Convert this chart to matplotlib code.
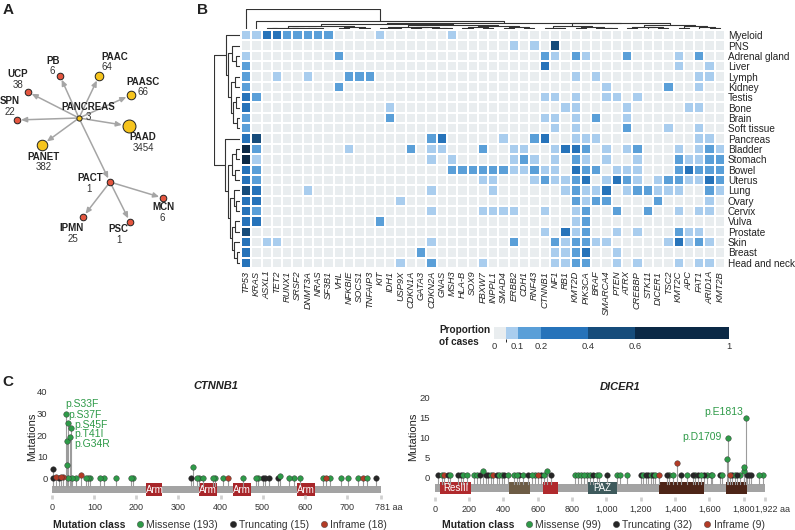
import numpy as np
import matplotlib
matplotlib.use('Agg')
import matplotlib.pyplot as plt
from matplotlib.colors import ListedColormap, BoundaryNorm
from matplotlib.colorbar import ColorbarBase
from matplotlib.lines import Line2D
from matplotlib.patches import Rectangle

plt.rcParams['font.family'] = ['Liberation Sans', 'DejaVu Sans']
plt.rcParams['font.size'] = 7.5
TXT = '#222222'

# ---------------- panel A: oncotree of pancreas ----------------
subtypes = ['PANCREAS', 'PB', 'PAAC', 'UCP', 'PAASC', 'SPN', 'PAAD', 'PANET',
            'PACT', 'MCN', 'IPMN', 'PSC']
n_cases = [3, 6, 64, 38, 66, 22, 3454, 382, 1, 6, 25, 1]
parent = [None, 'PANCREAS', 'PANCREAS', 'PANCREAS', 'PANCREAS', 'PANCREAS',
          'PANCREAS', 'PANCREAS', 'PANCREAS', 'PACT', 'PACT', 'PACT']
node_group = ['main', 'minor', 'main', 'minor', 'main', 'minor', 'main', 'main',
              'minor', 'minor', 'minor', 'minor']

# ---------------- panel B: heatmap ----------------
genes = ['TP53', 'KRAS', 'ASXL1', 'TET2', 'RUNX1', 'SRSF2', 'DNMT3A', 'NRAS', 'SF3B1',
         'VHL', 'NFKBIE', 'SOCS1', 'TNFAIP3', 'KIT', 'IDH1', 'USP9X', 'CDKN1A', 'GATA3',
         'CDKN2A', 'GNAS', 'MSH3', 'HLA-B', 'SOX9', 'FBXW7', 'INPPL1', 'SMAD4', 'ERBB2',
         'CDH1', 'RNF43', 'CTNNB1', 'NF1', 'RB1', 'KMT2D', 'PIK3CA', 'BRAF', 'SMARCA4',
         'PTEN', 'ATRX', 'CREBBP', 'STK11', 'DICER1', 'TSC2', 'KMT2C', 'APC', 'FAT1',
         'ARID1A', 'KMT2B']
tissues = ['Myeloid', 'PNS', 'Adrenal gland', 'Liver', 'Lymph', 'Kidney', 'Testis', 'Bone',
           'Brain', 'Soft tissue', 'Pancreas', 'Bladder', 'Stomach', 'Bowel', 'Uterus',
           'Lung', 'Ovary', 'Cervix', 'Vulva', 'Prostate', 'Skin', 'Breast', 'Head and neck']
# proportion bin per cell: 1 <0.1, 2 0.1-0.2, 3 0.2-0.4, 4 0.4-0.6, 5 >0.6 (0 = none)
bins = {
    'Myeloid': {'TP53': 1, 'KRAS': 1, 'ASXL1': 3, 'TET2': 3, 'RUNX1': 2, 'SRSF2': 2, 'DNMT3A': 2,
                'NRAS': 2, 'SF3B1': 2, 'KIT': 1, 'MSH3': 1},
    'PNS': {'ERBB2': 1, 'RNF43': 1, 'NF1': 4},
    'Adrenal gland': {'TP53': 1, 'VHL': 2, 'CTNNB1': 2, 'NF1': 1, 'KMT2D': 2, 'PIK3CA': 1,
                      'ATRX': 2, 'KMT2C': 1, 'FAT1': 2},
    'Liver': {'TP53': 2, 'CTNNB1': 3, 'KMT2C': 1, 'ARID1A': 1},
    'Lymph': {'TP53': 2, 'TET2': 1, 'DNMT3A': 1, 'NFKBIE': 2, 'SOCS1': 2, 'TNFAIP3': 2,
              'KMT2D': 1, 'BRAF': 1, 'FAT1': 1, 'ARID1A': 1},
    'Kidney': {'TP53': 2, 'VHL': 2, 'SMARCA4': 1, 'TSC2': 2, 'FAT1': 1},
    'Testis': {'TP53': 3, 'KRAS': 2, 'CTNNB1': 1, 'NF1': 1, 'KMT2D': 1, 'SMARCA4': 1,
               'PTEN': 1, 'CREBBP': 1},
    'Bone': {'TP53': 3, 'IDH1': 1, 'RB1': 1, 'KMT2D': 1, 'ATRX': 1, 'APC': 1, 'FAT1': 1},
    'Brain': {'TP53': 2, 'IDH1': 2, 'CTNNB1': 1, 'NF1': 1, 'KMT2D': 1, 'BRAF': 2, 'ATRX': 1},
    'Soft tissue': {'TP53': 2, 'NF1': 1, 'KMT2D': 1, 'ATRX': 2, 'TSC2': 1, 'FAT1': 1},
    'Pancreas': {'TP53': 3, 'KRAS': 4, 'CDKN2A': 2, 'GNAS': 3, 'SMAD4': 1, 'RNF43': 2,
                 'CTNNB1': 3, 'KMT2D': 1, 'PIK3CA': 1, 'BRAF': 1, 'FAT1': 1, 'ARID1A': 1},
    'Bladder': {'TP53': 5, 'KRAS': 2, 'NFKBIE': 1, 'CDKN1A': 2, 'CDKN2A': 1, 'GNAS': 1,
                'FBXW7': 2, 'ERBB2': 1, 'CDH1': 1, 'NF1': 1, 'RB1': 3, 'KMT2D': 3, 'PIK3CA': 2,
                'SMARCA4': 1, 'ATRX': 1, 'CREBBP': 2, 'KMT2C': 1, 'FAT1': 1, 'ARID1A': 2,
                'KMT2B': 1},
    'Stomach': {'TP53': 5, 'KRAS': 1, 'CDKN2A': 1, 'MSH3': 1, 'ERBB2': 1, 'CDH1': 2,
                'RNF43': 1, 'NF1': 1, 'KMT2D': 2, 'PIK3CA': 1, 'SMARCA4': 1, 'CREBBP': 1,
                'KMT2C': 2, 'APC': 1, 'FAT1': 1, 'ARID1A': 2, 'KMT2B': 2},
    'Bowel': {'TP53': 3, 'KRAS': 2, 'MSH3': 2, 'HLA-B': 2, 'SOX9': 2, 'FBXW7': 2, 'INPPL1': 2,
              'SMAD4': 2, 'ERBB2': 1, 'CDH1': 1, 'RNF43': 2, 'CTNNB1': 1, 'NF1': 1, 'KMT2D': 3,
              'PIK3CA': 2, 'BRAF': 2, 'PTEN': 1, 'ATRX': 1, 'CREBBP': 1, 'KMT2C': 2, 'APC': 3,
              'FAT1': 2, 'ARID1A': 2, 'KMT2B': 2},
    'Uterus': {'TP53': 3, 'KRAS': 2, 'FBXW7': 1, 'INPPL1': 1, 'RNF43': 1, 'CTNNB1': 2, 'NF1': 1,
               'RB1': 1, 'KMT2D': 2, 'PIK3CA': 3, 'SMARCA4': 1, 'PTEN': 3, 'ATRX': 2,
               'CREBBP': 1, 'DICER1': 1, 'TSC2': 2, 'KMT2C': 2, 'APC': 1, 'FAT1': 1,
               'ARID1A': 3, 'KMT2B': 2},
    'Lung': {'TP53': 4, 'KRAS': 3, 'DNMT3A': 1, 'CDKN2A': 1, 'INPPL1': 1, 'RB1': 1, 'KMT2D': 2,
             'PIK3CA': 1, 'BRAF': 1, 'SMARCA4': 3, 'ATRX': 1, 'CREBBP': 2, 'STK11': 2,
             'DICER1': 1, 'TSC2': 1, 'KMT2C': 1, 'ARID1A': 2, 'KMT2B': 1},
    'Ovary': {'TP53': 3, 'KRAS': 3, 'USP9X': 1, 'KMT2D': 2, 'PIK3CA': 1, 'BRAF': 2,
              'SMARCA4': 2, 'DICER1': 2, 'ARID1A': 1},
    'Cervix': {'TP53': 3, 'KRAS': 2, 'CDKN2A': 1, 'FBXW7': 1, 'INPPL1': 1, 'SMAD4': 1,
               'ERBB2': 1, 'CTNNB1': 1, 'KMT2D': 1, 'PIK3CA': 2, 'PTEN': 2, 'STK11': 2,
               'KMT2C': 1, 'FAT1': 1, 'ARID1A': 1},
    'Vulva': {'TP53': 3, 'KRAS': 3, 'KIT': 2, 'KMT2D': 1, 'PIK3CA': 2},
    'Prostate': {'TP53': 4, 'CTNNB1': 1, 'RB1': 3, 'KMT2D': 1, 'PIK3CA': 2, 'PTEN': 1,
                 'CREBBP': 1, 'KMT2C': 2, 'APC': 1, 'FAT1': 1},
    'Skin': {'TP53': 3, 'ASXL1': 1, 'TET2': 1, 'CDKN2A': 1, 'ERBB2': 2, 'NF1': 2, 'RB1': 1,
             'KMT2D': 2, 'PIK3CA': 2, 'BRAF': 1, 'SMARCA4': 1, 'TSC2': 1, 'KMT2C': 3,
             'APC': 1, 'FAT1': 2, 'ARID1A': 1},
    'Breast': {'TP53': 3, 'GATA3': 2, 'NF1': 1, 'RB1': 1, 'KMT2D': 2, 'PIK3CA': 3, 'PTEN': 1},
    'Head and neck': {'TP53': 3, 'USP9X': 1, 'CDKN2A': 2, 'FBXW7': 1, 'NF1': 1, 'RB1': 1,
                      'KMT2D': 2, 'PIK3CA': 2, 'PTEN': 1, 'CREBBP': 1, 'KMT2C': 1, 'FAT1': 1,
                      'ARID1A': 1},
}
prop_bounds = [0, 0.05, 0.1, 0.2, 0.4, 0.6, 1]
prop_ticks = [0, 0.1, 0.2, 0.4, 0.6, 1]

# clustering trees: [height, left, right], leaves are column / row indices
col_tree = [1.0, 0, [0.42, 1, [0.32,
    [0.24,
     [0.16, [0.07, [0.04, 2, 3], [0.05, [0.03, 4, 5], [0.04, 6, [0.02, 7, 8]]]],
      [0.1, [0.05, 9, 10], [0.06, 11, 12]]],
     [0.2, [0.12, [0.06, 13, [0.04, 14, 15]], [0.08, [0.05, 16, 17], [0.06, 18, [0.03, 19, 20]]]],
      [0.14, [0.08, [0.05, 21, 22], [0.06, 23, 24]], [0.09, [0.05, 25, 26], [0.06, 27, 28]]]]],
    [0.28,
     [0.15, [0.07, 29, [0.05, 30, 31]], [0.1, [0.06, 32, 33], [0.07, 34, [0.04, 35, 36]]]],
     [0.2, [0.12, [0.06, 37, 38], [0.08, 39, [0.05, 40, 41]]],
      [0.14, [0.07, 42, 43], [0.09, 44, [0.05, 45, 46]]]]]]]]
row_tree = [1.0,
            [0.52, 0, [0.46, [0.3, 1, [0.15, 2, 3]],
                       [0.36, [0.2, 4, 5], [0.28, [0.14, 6, 7], [0.12, 8, 9]]]]],
            [0.56, 10, [0.48, [0.3, [0.16, 11, 12], [0.2, 13, 14]],
                        [0.4, [0.25, 15, [0.14, 16, 17]],
                         [0.3, [0.18, 18, 19], [0.22, 20, [0.1, 21, 22]]]]]]]

# ---------------- panel C: lollipops ----------------
ctnnb1_len = 781
ctnnb1_pos = [2, 2, 9, 15, 21, 25, 33, 37, 45, 41, 34, 35, 37, 46, 56, 68, 80, 86, 90, 113,
              123, 151, 187, 191, 331, 334, 343, 349, 358, 383, 387, 407, 417, 453, 484, 490,
              502, 507, 515, 537, 541, 564, 575, 589, 643, 651, 660, 686, 703, 728, 738, 748, 769]
ctnnb1_height = [0, 4.2, 0.8, 0, 0.8, 0.8, 30, 25.5, 23.2, 19.3, 17.3, 6.2, 0, 0, 0, 1.5, 0, 0,
                 0, 0, 0, 0, 0, 0, 0, 5.2, 0, 0, 0, 0, 0, 0, 0, 0, 0, 0, 0, 0, 0, 0, 1, 0, 0, 0,
                 0, 0, 0, 0, 0, 0, 0, 0, 0]
ctnnb1_class = list('TTITII' 'MMMMMM' 'MMMIMMMMMMMM' 'TMMMMMMMIMMM' 'TTTTMMMMMIMMMMIMT')
ctnnb1_labels = ['p.S33F', 'p.S37F', 'p.S45F', 'p.T41I', 'p.G34R']
ctnnb1_domains = [('Arm', 224, 262), ('Arm', 350, 391), ('Arm', 430, 472), ('Arm', 583, 624)]
ctnnb1_counts = [193, 15, 18]

dicer1_len = 1922
dicer1_pos = [21, 41, 56, 76, 89, 138, 153, 167, 186, 229, 249, 264, 283,
              299, 313, 326, 342, 361, 375, 390, 404, 429, 464, 478, 493, 513, 542, 565, 584,
              604, 617, 637, 652, 676, 817, 837, 852, 870, 885, 905, 924, 944, 957, 1002, 1064,
              1080, 1118, 1200, 1216, 1229, 1245, 1258, 1270, 1284, 1309, 1351, 1367, 1386,
              1414, 1433, 1472, 1503, 1517, 1536, 1551, 1569, 1588, 1608, 1617, 1662, 1676,
              1709, 1701, 1720, 1734, 1750, 1763, 1779, 1813, 1804, 1804,
              1817, 1831, 1843, 1891, 1911]
dicer1_height = [0.5] * 12 + [1.6] + [0.5] * 19 + [1.6] + [0.5] * 25 + [3.7] + [0.5] * 12 + \
                [9.75, 4.6] + [0.5] * 5 + [14.75, 2.7, 1.6] + [0.5] * 5
dicer1_class = list('TMITMTTMMMMTM' 'TTMITMMTMMMTMTMMIT' 'MMTMMMMMMTMMTMMM'
                    'TMTTMTMITMMI' 'TMTMTMTMMMTM' 'MMITMTM' 'MMMTTTMM')
dicer1_labels = ['p.D1709', 'p.E1813']
dicer1_domains = [('ResIII', 31, 210), ('', 435, 555), ('', 629, 716), ('PAZ', 895, 1060),
                  ('', 1309, 1569), ('', 1695, 1817)]
dicer1_counts = [99, 32, 9]

mut_classes = ['Missense', 'Truncating', 'Inframe']

# ---------------- styles / layout ----------------
class_color = {'M': '#2e9a48', 'T': '#262626', 'I': '#b23b26'}
group_color = {'main': '#f6c41d', 'minor': '#e4563f'}
level_colors = ['#e9edef', '#a9cdee', '#5a9fd8', '#2673ba', '#164c7b', '#0b2946']
dom_colors_dicer = ['#b02a2d', '#6d5c45', '#b02a2d', '#3e5a5c', '#4d2518', '#4d2518']
W, H = 795, 530
TICK_FS = 6.5


def box(l, t, r, b):
    return [l / W, 1 - b / H, (r - l) / W, (b - t) / H]


fig = plt.figure(figsize=(7.95, 5.3), dpi=100)
ov = fig.add_axes([0, 0, 1, 1])
ov.set_xlim(0, W)
ov.set_ylim(H, 0)
ov.axis('off')

for letter, (lx, ly) in zip('ABC', [(8, 10), (203, 10), (8, 382)]):
    ov.text(lx, ly, letter, fontsize=11, fontweight='bold', ha='center', va='center', color=TXT)

# ---- panel A
node_xy = {'PANCREAS': (79, 118), 'PB': (60, 76), 'PAAC': (99, 76), 'UCP': (28, 92),
           'PAASC': (131, 95), 'SPN': (17, 120), 'PAAD': (129, 126), 'PANET': (42, 145),
           'PACT': (110, 182), 'MCN': (163, 198), 'IPMN': (83, 217), 'PSC': (130, 222)}
name_xy = {'PANCREAS': (88, 107), 'PB': (53, 61), 'PAAC': (115, 57), 'UCP': (18, 74),
           'PAASC': (143, 82), 'SPN': (10, 101), 'PAAD': (143, 137), 'PANET': (44, 157),
           'PACT': (90, 178), 'MCN': (163, 207), 'IPMN': (72, 228), 'PSC': (118, 229)}
count_xy = {'PANCREAS': (88, 117), 'PB': (52, 71), 'PAAC': (107, 67), 'UCP': (18, 85),
            'PAASC': (143, 92), 'SPN': (10, 112), 'PAAD': (143, 148), 'PANET': (44, 167),
            'PACT': (89, 189), 'MCN': (162, 218), 'IPMN': (73, 239), 'PSC': (119, 240)}


def node_radius(n, grp):
    # yellow nodes scale with the number of cases
    return 2.0 + 0.55 * np.log(n) if grp == 'main' else 3.3


radius = {s: node_radius(n, g) for s, n, g in zip(subtypes, n_cases, node_group)}
for s, p in zip(subtypes, parent):
    if p is None:
        continue
    ov.annotate('', xy=node_xy[s], xytext=node_xy[p],
                arrowprops=dict(arrowstyle='-|>,head_length=0.45,head_width=0.2',
                                color='#a5a5a5', lw=1.1,
                                shrinkA=radius[p] * 0.72, shrinkB=radius[s] * 0.72 + 0.5))
for s, n, g in zip(subtypes, n_cases, node_group):
    x, y = node_xy[s]
    ov.scatter([x], [y], s=(2 * radius[s] * 0.72) ** 2, color=group_color[g],
               edgecolor='#222222', linewidth=0.7, zorder=5)
    ov.text(*name_xy[s], s, fontsize=7, fontweight='bold', ha='center', va='center', color=TXT)
    ov.text(*count_xy[s], str(n), fontsize=7, ha='center', va='center', color='#333333')

# ---- panel B heatmap
levels = np.array([[bins[t].get(g, 0) for g in genes] for t in tissues])
hm = fig.add_axes(box(241, 30, 725, 268))
hm.pcolormesh(np.arange(len(genes) + 1), np.arange(len(tissues) + 1), levels,
              cmap=ListedColormap(level_colors), norm=BoundaryNorm(np.arange(-0.5, 6), 6),
              edgecolors='white', linewidth=1.1)
hm.set_xlim(0, len(genes))
hm.set_ylim(len(tissues), 0)
for sp in hm.spines.values():
    sp.set_visible(False)
hm.set_xticks(np.arange(len(genes)) + 0.5)
hm.set_xticklabels(genes, rotation=90, fontsize=6.7, fontstyle='italic', color=TXT)
hm.set_yticks(np.arange(len(tissues)) + 0.5)
hm.set_yticklabels(tissues, fontsize=7.2, color=TXT)
hm.yaxis.tick_right()
hm.tick_params(length=0, pad=2)


def draw_tree(ax, node, horizontal=False):
    if isinstance(node, int):
        return node + 0.5, 0.0
    h, a, b = node
    pa, ha = draw_tree(ax, a, horizontal)
    pb, hb = draw_tree(ax, b, horizontal)
    ps, hs = [pa, pa, pb, pb], [ha, h, h, hb]
    if horizontal:
        ax.plot(hs, ps, color='#333333', lw=0.8, solid_capstyle='butt')
    else:
        ax.plot(ps, hs, color='#333333', lw=0.8, solid_capstyle='butt')
    return (pa + pb) / 2, h


cd = fig.add_axes(box(241, 9, 725, 29))
draw_tree(cd, col_tree)
cd.set_xlim(0, len(genes))
cd.set_ylim(0, 1.0)
cd.axis('off')

rd = fig.add_axes(box(214, 30, 240, 268))
draw_tree(rd, row_tree, horizontal=True)
rd.set_xlim(1.0, 0)
rd.set_ylim(len(tissues), 0)
rd.axis('off')

cax = fig.add_axes(box(494, 327, 729, 339))
cb = ColorbarBase(cax, cmap=ListedColormap(level_colors), norm=BoundaryNorm(prop_bounds, 6),
                  boundaries=prop_bounds, spacing='proportional', orientation='horizontal',
                  ticks=prop_ticks)
cb.outline.set_visible(False)
cb.set_ticklabels(['0', '0.1', '0.2', '0.4', '0.6', '1'])
cax.tick_params(length=0, labelsize=6.8, pad=2, colors='#333333')
ov.text(439, 336, 'Proportion\nof cases', fontsize=7.2, fontweight='bold', ha='left',
        va='center', color=TXT, linespacing=1.15)


# ---- panel C lollipops
def lollipop(axbox, xlim, ylim, yticks, length, pos, height, cls, labels, label_xy,
             domains, dom_colors, bar_y, dom_y, tick_y, spine_x, ticks, title,
             title_xy, counts, legend_x, ylab_x):
    ax = fig.add_axes(axbox)
    ax.patch.set_visible(False)
    ax.set_xlim(*xlim)
    ax.set_ylim(*ylim)
    ax.add_patch(Rectangle((0, bar_y[0]), length, bar_y[1] - bar_y[0], color='#a3a3a3', lw=0))
    for (name, a, b), c in zip(domains, dom_colors):
        ax.add_patch(Rectangle((a, dom_y[0]), b - a, dom_y[1] - dom_y[0], color=c, lw=0))
        if name:
            ax.text((a + b) / 2, sum(dom_y) / 2, name, color='white', fontsize=7,
                    ha='center', va='center')
    order = np.argsort(height)
    for i in order:
        ax.plot([pos[i], pos[i]], [bar_y[1], height[i]], color='#9c9c9c', lw=0.8, zorder=2)
    for i in order:
        ax.plot(pos[i], height[i], 'o', ms=4, color=class_color[cls[i]],
                mec='#333333', mew=0.3, zorder=3, clip_on=False)
    for lab, (lx, ly) in zip(labels, label_xy):
        ax.text(lx, ly, lab, color='#2e9a48', fontsize=7.5, ha='left', va='center')
    for sp in ['top', 'right', 'bottom', 'left']:
        ax.spines[sp].set_visible(False)
    ax.spines['bottom'].set_position(('data', tick_y))
    ax.spines['left'].set_position(('data', spine_x))
    ax.set_xticks(ticks)
    tl = [f'{t:,}' for t in ticks]
    tl[-1] = ''
    ax.set_xticklabels(tl, fontsize=TICK_FS, color='#333333')
    ax.tick_params(axis='x', length=2.2, width=2, color='#d0d0d0', direction='inout', pad=3)
    # protein length label: number centred (slightly right) on the last tick, "aa" trailing
    half = 0.5 * 0.556 * TICK_FS * len(str(ticks[-1])) + \
        (0.5 * 0.278 * TICK_FS if ticks[-1] >= 1000 else 0)
    ax.annotate(f'{ticks[-1]:,} aa', xy=(ticks[-1], tick_y), xytext=(-half + 1.2, -4.1),
                textcoords='offset points', ha='left', va='top', fontsize=TICK_FS,
                color='#333333', annotation_clip=False)
    ax.set_yticks(yticks)
    ax.tick_params(axis='y', length=0, pad=2, labelsize=TICK_FS + 0.3, labelcolor='#333333')
    ov.text(ylab_x, 437, 'Mutations', rotation=90, fontsize=8, ha='center', va='center',
            color=TXT)
    ov.text(*title_xy, title, fontsize=8, fontweight='bold', fontstyle='italic',
            ha='center', va='center', color=TXT)
    ov.text(legend_x[0], 525, 'Mutation class', fontsize=7.5, fontweight='bold',
            ha='left', va='center', color=TXT)
    handles = [Line2D([], [], ls='', marker='o', ms=4.5, color=class_color[k], mec='#333333',
                      mew=0.3) for k in 'MTI']
    fig.legend(handles, [f'{m} ({n})' for m, n in zip(mut_classes, counts)], ncol=3,
               loc='center left', bbox_to_anchor=(legend_x[1] / W, 1 - 525 / H),
               frameon=False, fontsize=7.5, handlelength=0.7, handletextpad=0.25,
               columnspacing=1.1, borderpad=0, borderaxespad=0, labelcolor='#333333')
    return ax


# CTNNB1: 0 aa at x=52.3 px, 0.4205 px/aa ; 0 mutations at y=478.3 px, 2.158 px/unit
lollipop(box(52.3 - 20 * 0.4205, 478.3 - 42 * 2.158, 52.3 + 800 * 0.4205, 478.3 + 10 * 2.158),
         (-20, 800), (-10, 42), [0, 10, 20, 30, 40], ctnnb1_len,
         ctnnb1_pos, ctnnb1_height, ctnnb1_class, ctnnb1_labels,
         [(31, 34.4), (38, 29.3), (53, 24.6), (53, 20.3), (53, 16.0)],
         ctnnb1_domains, ['#a8262a'] * 4, (-6.9, -3.6), (-8.2, -2.2), -8.8, -5,
         [0, 100, 200, 300, 400, 500, 600, 700, 781],
         'CTNNB1', (216, 386), ctnnb1_counts, (53, 136), 32)

# DICER1: 0 aa at x=434.7 px, 0.1717 px/aa ; 0 mutations at y=477.3 px, 4.0 px/unit
lollipop(box(434.7 - 60 * 0.1717, 477.3 - 21 * 4.0, 434.7 + 1960 * 0.1717, 477.3 + 6 * 4.0),
         (-60, 1960), (-6, 21), [0, 5, 10, 15, 20], dicer1_len,
         dicer1_pos, dicer1_height, dicer1_class, [],
         [], dicer1_domains, dom_colors_dicer, (-3.7, -1.7), (-4.2, -1.2), -5.4, -10,
         [0, 200, 400, 600, 800, 1000, 1200, 1400, 1600, 1800, 1922],
         'DICER1', (620, 387), dicer1_counts, (442, 525), 413)
for lab, (lx, ly) in zip(dicer1_labels, [(722, 437), (743, 412)]):
    ov.text(lx, ly, lab, color='#2e9a48', fontsize=7.5, ha='right', va='center')

fig.savefig('out.png', dpi=100)
